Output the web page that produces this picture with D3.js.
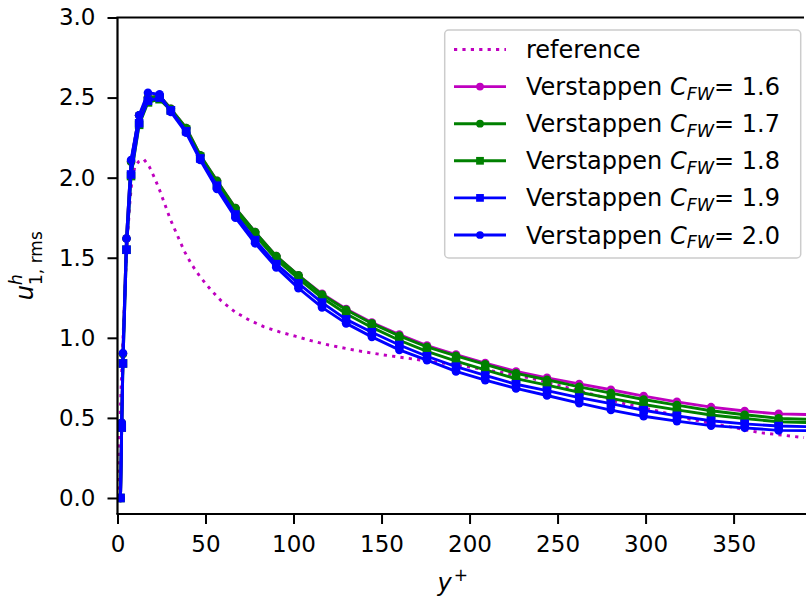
<!DOCTYPE html>
<html><head><meta charset="utf-8">
<script src="https://cdn.jsdelivr.net/npm/d3@7/dist/d3.min.js"></script>
<style>body{margin:0;background:#fff} text{font-family:"DejaVu Sans",sans-serif;fill:#000}</style>
</head><body><svg id="c" width="806" height="603"></svg>
<script>
// ---- data ----
const yPlus = [1.7, 2.4, 3.1, 5.1, 7.7, 12.3, 17.3, 23.9, 30.3, 39.0, 47.0, 56.5, 67.0, 78.2, 90.2, 102.8, 116.2, 129.9, 144.5, 160.1, 175.8, 192.3, 208.9, 226.4, 244.0, 262.3, 280.3, 298.9, 317.8, 337.2, 356.3, 375.6, 395.0];
const cfw16 = [0, 0.47, 0.90, 1.62, 2.10, 2.39, 2.50, 2.51, 2.43, 2.31, 2.14, 1.98, 1.81, 1.66, 1.51, 1.39, 1.275, 1.18, 1.095, 1.02, 0.952, 0.895, 0.842, 0.790, 0.750, 0.712, 0.676, 0.636, 0.600, 0.567, 0.543, 0.525, 0.520];
const cfw17 = [0, 0.47, 0.90, 1.62, 2.10, 2.39, 2.50, 2.51, 2.43, 2.31, 2.14, 1.98, 1.81, 1.66, 1.51, 1.39, 1.27, 1.175, 1.09, 1.012, 0.944, 0.888, 0.834, 0.778, 0.738, 0.694, 0.655, 0.615, 0.580, 0.545, 0.520, 0.497, 0.490];
const cfw18 = [0, 0.44, 0.84, 1.55, 2.01, 2.33, 2.47, 2.49, 2.42, 2.30, 2.13, 1.96, 1.79, 1.64, 1.49, 1.37, 1.25, 1.15, 1.065, 0.985, 0.915, 0.855, 0.800, 0.745, 0.705, 0.660, 0.622, 0.584, 0.550, 0.518, 0.496, 0.476, 0.470];
const cfw19 = [0, 0.44, 0.84, 1.55, 2.02, 2.34, 2.48, 2.50, 2.42, 2.29, 2.12, 1.95, 1.77, 1.61, 1.46, 1.34, 1.22, 1.115, 1.035, 0.955, 0.885, 0.820, 0.765, 0.710, 0.670, 0.627, 0.589, 0.548, 0.513, 0.482, 0.463, 0.449, 0.445];
const cfw20 = [0, 0.47, 0.905, 1.62, 2.11, 2.39, 2.53, 2.52, 2.41, 2.28, 2.11, 1.93, 1.75, 1.59, 1.44, 1.31, 1.19, 1.09, 1.006, 0.925, 0.861, 0.790, 0.736, 0.684, 0.640, 0.592, 0.549, 0.510, 0.480, 0.452, 0.438, 0.422, 0.420];
const refY = [0, 1, 2, 3, 4, 5, 6, 7, 8, 9, 10, 12, 15, 18, 21, 24, 27, 30, 34, 38, 42, 47, 53, 59, 67, 75, 83, 92, 101, 110, 120, 135, 150, 165, 180, 200, 220, 235, 255, 275, 285, 305, 325, 343, 365, 390];
const refU = [0, 0.35, 0.68, 0.97, 1.23, 1.48, 1.68, 1.84, 1.96, 2.03, 2.07, 2.10, 2.115, 2.07, 2.00, 1.92, 1.83, 1.74, 1.64, 1.54, 1.46, 1.38, 1.30, 1.23, 1.16, 1.11, 1.07, 1.037, 1.01, 0.982, 0.955, 0.922, 0.895, 0.872, 0.850, 0.818, 0.780, 0.748, 0.690, 0.632, 0.596, 0.548, 0.492, 0.455, 0.408, 0.377];
const cfwLabels = ["1.6", "1.7", "1.8", "1.9", "2.0"];
const xTicks = [0, 50, 100, 150, 200, 250, 300, 350];
const yTicks = [0.0, 0.5, 1.0, 1.5, 2.0, 2.5, 3.0];

// ---- setup ----
const svg = d3.select("#c");
const L = 117.5, R = 804, T = 17.5, B = 514;
const x = d3.scaleLinear().domain([0, 390]).range([L, R]);
const y = d3.scaleLinear().domain([-0.1, 3.0]).range([B, T]);

svg.append("rect").attr("width", 806).attr("height", 603).attr("fill", "#fff");
svg.append("clipPath").attr("id", "clip").append("rect")
  .attr("x", L).attr("y", T).attr("width", 806 - L).attr("height", B - T);

const series = [
  {vals: cfw16, color: "#bf00bf", marker: "circle", label: cfwLabels[0]},
  {vals: cfw17, color: "#008000", marker: "circle", label: cfwLabels[1]},
  {vals: cfw18, color: "#008000", marker: "square", label: cfwLabels[2]},
  {vals: cfw19, color: "#0000ff", marker: "square", label: cfwLabels[3]},
  {vals: cfw20, color: "#0000ff", marker: "circle", label: cfwLabels[4]}
];
const LW = 2.9, CR = 4.3, SQ = 8.6;

const g = svg.append("g").attr("clip-path", "url(#clip)");
const line = d3.line().x(d => x(d[0])).y(d => y(d[1]));

g.append("path").datum(refY.map((v, i) => [v, refU[i]]))
  .attr("d", line).attr("fill", "none").attr("stroke", "#bf00bf")
  .attr("stroke-width", LW).attr("stroke-dasharray", "3.2,5.2");

function drawMarker(sel, type, cx, cy, color, scale) {
  const k = scale || 1;
  if (type === "circle") sel.append("circle").attr("cx", cx).attr("cy", cy).attr("r", CR * k).attr("fill", color);
  else sel.append("rect").attr("x", cx - SQ * k / 2).attr("y", cy - SQ * k / 2).attr("width", SQ * k).attr("height", SQ * k).attr("fill", color);
}

series.forEach(s => {
  const pts = yPlus.map((v, i) => [v, s.vals[i]]);
  g.append("path").datum(pts).attr("d", line).attr("fill", "none")
    .attr("stroke", s.color).attr("stroke-width", LW).attr("stroke-linejoin", "round");
  const mg = g.append("g");
  pts.forEach(p => drawMarker(mg, s.marker, x(p[0]), y(p[1]), s.color));
});

// ---- axes ----
const xAxis = svg.append("g").attr("transform", `translate(0,${B})`)
  .call(d3.axisBottom(x).tickValues(xTicks).tickSize(10).tickPadding(12).tickFormat(d3.format("d")));
const yAxis = svg.append("g").attr("transform", `translate(${L},0)`)
  .call(d3.axisLeft(y).tickValues(yTicks).tickSize(10).tickPadding(12).tickFormat(d3.format(".1f")));
[xAxis, yAxis].forEach(a => {
  a.select(".domain").remove();
  a.selectAll(".tick line").attr("stroke", "#000").attr("stroke-width", 2);
  a.selectAll(".tick text").attr("font-size", 23).attr("font-family", "DejaVu Sans");
});
// spines
svg.append("line").attr("x1", L).attr("x2", L).attr("y1", T).attr("y2", B).attr("stroke", "#000").attr("stroke-width", 2.2);
svg.append("line").attr("x1", L - 1.1).attr("x2", 806).attr("y1", B).attr("y2", B).attr("stroke", "#000").attr("stroke-width", 2.2);
svg.append("line").attr("x1", L - 1.1).attr("x2", R).attr("y1", T).attr("y2", T).attr("stroke", "#000").attr("stroke-width", 2.2);

// axis labels
const xl = svg.append("text").attr("x", (L + R) / 2 - 8).attr("y", 591)
  .attr("text-anchor", "middle").attr("font-size", 24);
xl.append("tspan").attr("font-style", "italic").text("y");
xl.append("tspan").attr("font-size", 17).attr("dy", -10).attr("dx", 2).text("+");

const yl = svg.append("text").attr("transform", `translate(33,${(T + B) / 2}) rotate(-90)`)
  .attr("text-anchor", "middle").attr("font-size", 24);
yl.append("tspan").attr("font-style", "italic").text("u");
yl.append("tspan").attr("font-style", "italic").attr("font-size", 17).attr("dy", -11).text("h");
yl.append("tspan").attr("font-size", 17).attr("dx", -10.7).attr("dy", 20).text("1, rms");

// ---- legend ----
const lg = svg.append("g");
lg.append("rect").attr("x", 444.7).attr("y", 30).attr("width", 356).attr("height", 228)
  .attr("rx", 4).attr("fill", "#fff").attr("fill-opacity", 0.8)
  .attr("stroke", "#cccccc").attr("stroke-width", 1.5);
const rowY = i => 49.5 + i * 37.1;
lg.append("line").attr("x1", 454).attr("x2", 506).attr("y1", rowY(0)).attr("y2", rowY(0))
  .attr("stroke", "#bf00bf").attr("stroke-width", LW).attr("stroke-dasharray", "3.2,5.2");
lg.append("text").attr("x", 526).attr("y", rowY(0) + 8.5).attr("font-size", 24).text("reference");
series.forEach((s, k) => {
  const cy = rowY(k + 1);
  lg.append("line").attr("x1", 454).attr("x2", 506).attr("y1", cy).attr("y2", cy)
    .attr("stroke", s.color).attr("stroke-width", LW);
  drawMarker(lg, s.marker, 480, cy, s.color, 0.9);
  const t = lg.append("text").attr("x", 526).attr("y", cy + 8.5).attr("font-size", 24);
  t.append("tspan").text("Verstappen ");
  t.append("tspan").attr("font-style", "italic").text("C");
  t.append("tspan").attr("font-style", "italic").attr("font-size", 17.5).attr("dy", 4.5).text("FW");
  t.append("tspan").attr("dy", -4.5).text("= " + s.label);
});
</script></body></html>
